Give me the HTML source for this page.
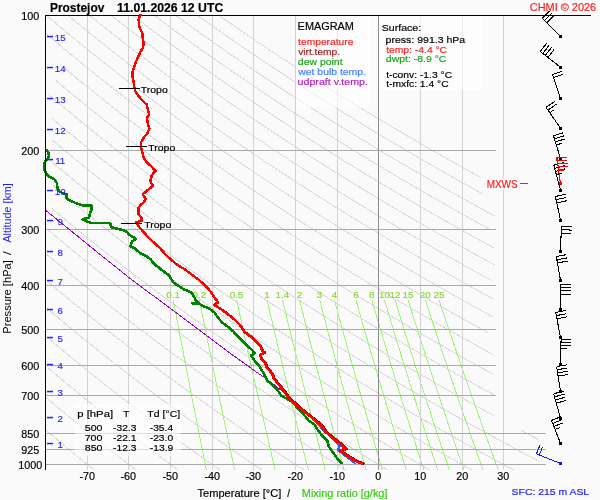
<!DOCTYPE html>
<html><head><meta charset="utf-8"><style>
html,body{margin:0;padding:0;background:#fafafa;width:600px;height:500px;overflow:hidden;font-family:"Liberation Sans",sans-serif;}
</style></head><body>
<svg xmlns="http://www.w3.org/2000/svg" width="600" height="500" viewBox="0 0 600 500" style="position:absolute;left:0;top:0;will-change:transform">
<defs><clipPath id="pc"><rect x="46" y="16" width="500" height="454"/></clipPath><clipPath id="pc3"><rect x="46" y="14" width="500" height="456"/></clipPath><clipPath id="pc2"><rect x="43" y="16" width="503" height="454"/></clipPath></defs>
<rect x="0" y="0" width="600" height="500" fill="#fafafa"/>
<g clip-path="url(#pc)" shape-rendering="crispEdges">
<polyline points="45.9,430.2 48.7,432.5 51.4,434.8 54.0,437.1 56.7,439.3 59.3,441.5 61.9,443.7 64.5,445.8 67.1,448.0 69.7,450.1 72.2,452.2 74.7,454.2 77.2,456.3 79.7,458.3 82.1,460.3 84.6,462.3 87.0,464.2 89.4,466.2 91.8,468.1 94.2,470.0 96.5,471.9 98.9,473.8" fill="none" stroke="#dadada" stroke-width="1" />
<polyline points="45.9,397.4 49.2,400.1 52.4,402.8 55.5,405.5 58.6,408.1 61.7,410.7 64.8,413.2 67.8,415.8 70.9,418.2 73.8,420.7 76.8,423.1 79.7,425.5 82.6,427.9 85.5,430.2 88.4,432.5 91.2,434.8 94.0,437.1 96.8,439.3 99.6,441.5 102.3,443.7 105.0,445.8 107.7,448.0 110.4,450.1 113.1,452.2 115.7,454.2 118.3,456.3 120.9,458.3 123.5,460.3 126.1,462.3 128.6,464.2 131.1,466.2 133.6,468.1 136.1,470.0 138.6,471.9 141.0,473.8" fill="none" stroke="#dadada" stroke-width="1" />
<polyline points="47.9,367.8 51.7,371.0 55.4,374.1 59.1,377.2 62.7,380.2 66.3,383.2 69.8,386.1 73.3,389.0 76.8,391.8 80.3,394.6 83.7,397.4 87.0,400.1 90.4,402.8 93.7,405.5 97.0,408.1 100.2,410.7 103.4,413.2 106.6,415.8 109.7,418.2 112.9,420.7 116.0,423.1 119.0,425.5 122.1,427.9 125.1,430.2 128.1,432.5 131.0,434.8 134.0,437.1 136.9,439.3 139.8,441.5 142.7,443.7 145.5,445.8 148.3,448.0 151.2,450.1 153.9,452.2 156.7,454.2 159.4,456.3 162.2,458.3 164.9,460.3 167.5,462.3 170.2,464.2 172.8,466.2 175.5,468.1 178.1,470.0 180.7,471.9 183.2,473.8" fill="none" stroke="#dadada" stroke-width="1" />
<polyline points="46.5,336.7 50.9,340.4 55.2,344.0 59.5,347.6 63.7,351.1 67.9,354.6 72.0,358.0 76.1,361.3 80.1,364.6 84.1,367.8 88.0,371.0 91.9,374.1 95.7,377.2 99.5,380.2 103.2,383.2 106.9,386.1 110.6,389.0 114.2,391.8 117.8,394.6 121.4,397.4 124.9,400.1 128.4,402.8 131.9,405.5 135.3,408.1 138.7,410.7 142.0,413.2 145.3,415.8 148.6,418.2 151.9,420.7 155.1,423.1 158.3,425.5 161.5,427.9 164.7,430.2 167.8,432.5 170.9,434.8 174.0,437.1 177.0,439.3 180.0,441.5 183.0,443.7 186.0,445.8 189.0,448.0 191.9,450.1 194.8,452.2 197.7,454.2 200.6,456.3 203.4,458.3 206.2,460.3 209.0,462.3 211.8,464.2 214.6,466.2 217.3,468.1 220.0,470.0 222.7,471.9 225.4,473.8" fill="none" stroke="#dadada" stroke-width="1" />
<polyline points="47.1,308.4 52.1,312.7 57.1,316.9 62.1,321.0 66.9,325.1 71.7,329.0 76.4,332.9 81.0,336.7 85.6,340.4 90.1,344.0 94.6,347.6 99.0,351.1 103.3,354.6 107.6,358.0 111.9,361.3 116.0,364.6 120.2,367.8 124.3,371.0 128.3,374.1 132.3,377.2 136.3,380.2 140.2,383.2 144.0,386.1 147.9,389.0 151.7,391.8 155.4,394.6 159.1,397.4 162.8,400.1 166.4,402.8 170.0,405.5 173.6,408.1 177.1,410.7 180.6,413.2 184.1,415.8 187.5,418.2 190.9,420.7 194.3,423.1 197.6,425.5 201.0,427.9 204.2,430.2 207.5,432.5 210.7,434.8 213.9,437.1 217.1,439.3 220.3,441.5 223.4,443.7 226.5,445.8 229.6,448.0 232.6,450.1 235.7,452.2 238.7,454.2 241.7,456.3 244.6,458.3 247.6,460.3 250.5,462.3 253.4,464.2 256.3,466.2 259.1,468.1 262.0,470.0 264.8,471.9 267.6,473.8" fill="none" stroke="#dadada" stroke-width="1" />
<polyline points="46.6,280.5 52.4,285.5 58.2,290.3 63.8,295.0 69.4,299.6 74.8,304.1 80.2,308.4 85.5,312.7 90.7,316.9 95.8,321.0 100.8,325.1 105.8,329.0 110.7,332.9 115.5,336.7 120.3,340.4 125.0,344.0 129.7,347.6 134.2,351.1 138.8,354.6 143.2,358.0 147.6,361.3 152.0,364.6 156.3,367.8 160.6,371.0 164.8,374.1 168.9,377.2 173.0,380.2 177.1,383.2 181.1,386.1 185.1,389.0 189.1,391.8 193.0,394.6 196.8,397.4 200.7,400.1 204.4,402.8 208.2,405.5 211.9,408.1 215.6,410.7 219.2,413.2 222.8,415.8 226.4,418.2 230.0,420.7 233.5,423.1 237.0,425.5 240.4,427.9 243.8,430.2 247.2,432.5 250.6,434.8 253.9,437.1 257.2,439.3 260.5,441.5 263.8,443.7 267.0,445.8 270.2,448.0 273.4,450.1 276.5,452.2 279.7,454.2 282.8,456.3 285.9,458.3 288.9,460.3 292.0,462.3 295.0,464.2 298.0,466.2 301.0,468.1 303.9,470.0 306.9,471.9 309.8,473.8" fill="none" stroke="#dadada" stroke-width="1" />
<polyline points="46.2,253.8 52.9,259.4 59.5,264.9 65.9,270.3 72.2,275.5 78.4,280.5 84.5,285.5 90.4,290.3 96.3,295.0 102.1,299.6 107.7,304.1 113.3,308.4 118.8,312.7 124.2,316.9 129.5,321.0 134.8,325.1 139.9,329.0 145.0,332.9 150.0,336.7 155.0,340.4 159.9,344.0 164.7,347.6 169.5,351.1 174.2,354.6 178.8,358.0 183.4,361.3 187.9,364.6 192.4,367.8 196.9,371.0 201.2,374.1 205.6,377.2 209.8,380.2 214.1,383.2 218.2,386.1 222.4,389.0 226.5,391.8 230.5,394.6 234.6,397.4 238.5,400.1 242.5,402.8 246.4,405.5 250.2,408.1 254.0,410.7 257.8,413.2 261.6,415.8 265.3,418.2 269.0,420.7 272.6,423.1 276.3,425.5 279.8,427.9 283.4,430.2 286.9,432.5 290.4,434.8 293.9,437.1 297.3,439.3 300.8,441.5 304.1,443.7 307.5,445.8 310.8,448.0 314.1,450.1 317.4,452.2 320.7,454.2 323.9,456.3 327.1,458.3 330.3,460.3 333.5,462.3 336.6,464.2 339.7,466.2 342.8,468.1 345.9,470.0 348.9,471.9 352.0,473.8" fill="none" stroke="#dadada" stroke-width="1" />
<polyline points="47.5,229.3 55.1,235.7 62.5,241.9 69.7,247.9 76.8,253.8 83.7,259.4 90.5,264.9 97.2,270.3 103.8,275.5 110.2,280.5 116.5,285.5 122.7,290.3 128.8,295.0 134.7,299.6 140.6,304.1 146.4,308.4 152.1,312.7 157.7,316.9 163.2,321.0 168.7,325.1 174.1,329.0 179.3,332.9 184.6,336.7 189.7,340.4 194.8,344.0 199.8,347.6 204.7,351.1 209.6,354.6 214.4,358.0 219.2,361.3 223.9,364.6 228.5,367.8 233.1,371.0 237.7,374.1 242.2,377.2 246.6,380.2 251.0,383.2 255.4,386.1 259.6,389.0 263.9,391.8 268.1,394.6 272.3,397.4 276.4,400.1 280.5,402.8 284.5,405.5 288.5,408.1 292.5,410.7 296.4,413.2 300.3,415.8 304.2,418.2 308.0,420.7 311.8,423.1 315.6,425.5 319.3,427.9 323.0,430.2 326.6,432.5 330.3,434.8 333.9,437.1 337.4,439.3 341.0,441.5 344.5,443.7 348.0,445.8 351.5,448.0 354.9,450.1 358.3,452.2 361.7,454.2 365.0,456.3 368.4,458.3 371.7,460.3 374.9,462.3 378.2,464.2 381.4,466.2 384.6,468.1 387.8,470.0 391.0,471.9 394.2,473.8" fill="none" stroke="#dadada" stroke-width="1" />
<polyline points="52.2,208.8 60.7,215.9 68.9,222.7 77.0,229.3 84.8,235.7 92.5,241.9 100.0,247.9 107.4,253.8 114.6,259.4 121.6,264.9 128.5,270.3 135.3,275.5 142.0,280.5 148.5,285.5 154.9,290.3 161.2,295.0 167.4,299.6 173.5,304.1 179.5,308.4 185.4,312.7 191.3,316.9 197.0,321.0 202.6,325.1 208.2,329.0 213.7,332.9 219.1,336.7 224.4,340.4 229.7,344.0 234.9,347.6 240.0,351.1 245.0,354.6 250.0,358.0 255.0,361.3 259.8,364.6 264.7,367.8 269.4,371.0 274.1,374.1 278.8,377.2 283.4,380.2 287.9,383.2 292.5,386.1 296.9,389.0 301.3,391.8 305.7,394.6 310.0,397.4 314.3,400.1 318.5,402.8 322.7,405.5 326.9,408.1 331.0,410.7 335.0,413.2 339.1,415.8 343.1,418.2 347.0,420.7 351.0,423.1 354.9,425.5 358.7,427.9 362.6,430.2 366.4,432.5 370.1,434.8 373.9,437.1 377.6,439.3 381.2,441.5 384.9,443.7 388.5,445.8 392.1,448.0 395.6,450.1 399.2,452.2 402.7,454.2 406.1,456.3 409.6,458.3 413.0,460.3 416.4,462.3 419.8,464.2 423.2,466.2 426.5,468.1 429.8,470.0 433.1,471.9 436.3,473.8" fill="none" stroke="#dadada" stroke-width="1" />
<polyline points="53.1,185.8 62.6,193.8 71.8,201.4 80.8,208.8 89.6,215.9 98.1,222.7 106.5,229.3 114.6,235.7 122.5,241.9 130.3,247.9 137.9,253.8 145.4,259.4 152.7,264.9 159.8,270.3 166.9,275.5 173.8,280.5 180.5,285.5 187.2,290.3 193.7,295.0 200.1,299.6 206.4,304.1 212.6,308.4 218.8,312.7 224.8,316.9 230.7,321.0 236.6,325.1 242.3,329.0 248.0,332.9 253.6,336.7 259.1,340.4 264.5,344.0 269.9,347.6 275.2,351.1 280.5,354.6 285.6,358.0 290.8,361.3 295.8,364.6 300.8,367.8 305.7,371.0 310.6,374.1 315.4,377.2 320.2,380.2 324.9,383.2 329.6,386.1 334.2,389.0 338.7,391.8 343.3,394.6 347.7,397.4 352.2,400.1 356.5,402.8 360.9,405.5 365.2,408.1 369.4,410.7 373.7,413.2 377.8,415.8 382.0,418.2 386.1,420.7 390.1,423.1 394.2,425.5 398.2,427.9 402.1,430.2 406.1,432.5 410.0,434.8 413.8,437.1 417.7,439.3 421.5,441.5 425.2,443.7 429.0,445.8 432.7,448.0 436.4,450.1 440.0,452.2 443.7,454.2 447.3,456.3 450.8,458.3 454.4,460.3 457.9,462.3 461.4,464.2 464.9,466.2 468.3,468.1 471.7,470.0 475.1,471.9 478.5,473.8" fill="none" stroke="#dadada" stroke-width="1" />
<polyline points="49.3,159.8 60.1,168.8 70.6,177.5 80.7,185.8 90.6,193.8 100.1,201.4 109.4,208.8 118.5,215.9 127.3,222.7 136.0,229.3 144.4,235.7 152.6,241.9 160.6,247.9 168.5,253.8 176.2,259.4 183.8,264.9 191.2,270.3 198.4,275.5 205.5,280.5 212.5,285.5 219.4,290.3 226.2,295.0 232.8,299.6 239.3,304.1 245.8,308.4 252.1,312.7 258.3,316.9 264.4,321.0 270.5,325.1 276.4,329.0 282.3,332.9 288.1,336.7 293.8,340.4 299.4,344.0 305.0,347.6 310.5,351.1 315.9,354.6 321.2,358.0 326.5,361.3 331.8,364.6 336.9,367.8 342.0,371.0 347.0,374.1 352.0,377.2 357.0,380.2 361.8,383.2 366.7,386.1 371.4,389.0 376.1,391.8 380.8,394.6 385.4,397.4 390.0,400.1 394.6,402.8 399.0,405.5 403.5,408.1 407.9,410.7 412.3,413.2 416.6,415.8 420.9,418.2 425.1,420.7 429.3,423.1 433.5,425.5 437.6,427.9 441.7,430.2 445.8,432.5 449.8,434.8 453.8,437.1 457.8,439.3 461.7,441.5 465.6,443.7 469.5,445.8 473.3,448.0 477.1,450.1 480.9,452.2 484.7,454.2 488.4,456.3 492.1,458.3 495.7,460.3 499.4,462.3 503.0,464.2 506.6,466.2 510.2,468.1 513.7,470.0 517.2,471.9 520.7,473.8" fill="none" stroke="#dadada" stroke-width="1" />
<polyline points="52.5,140.2 64.4,150.2 76.0,159.8 87.1,168.8 97.9,177.5 108.4,185.8 118.6,193.8 128.4,201.4 138.1,208.8 147.4,215.9 156.5,222.7 165.4,229.3 174.1,235.7 182.6,241.9 190.9,247.9 199.1,253.8 207.0,259.4 214.8,264.9 222.5,270.3 230.0,275.5 237.3,280.5 244.6,285.5 251.7,290.3 258.6,295.0 265.5,299.6 272.2,304.1 278.9,308.4 285.4,312.7 291.8,316.9 298.2,321.0 304.4,325.1 310.6,329.0 316.6,332.9 322.6,336.7 328.5,340.4 334.3,344.0 340.1,347.6 345.7,351.1 351.3,354.6 356.9,358.0 362.3,361.3 367.7,364.6 373.0,367.8 378.3,371.0 383.5,374.1 388.7,377.2 393.7,380.2 398.8,383.2 403.8,386.1 408.7,389.0 413.6,391.8 418.4,394.6 423.2,397.4 427.9,400.1 432.6,402.8 437.2,405.5 441.8,408.1 446.4,410.7 450.9,413.2 455.3,415.8 459.8,418.2 464.1,420.7 468.5,423.1 472.8,425.5 477.1,427.9 481.3,430.2 485.5,432.5 489.7,434.8 493.8,437.1 497.9,439.3 501.9,441.5 506.0,443.7 510.0,445.8 513.9,448.0 517.9,450.1 521.8,452.2 525.6,454.2 529.5,456.3 533.3,458.3 537.1,460.3" fill="none" stroke="#dadada" stroke-width="1" />
<polyline points="52.2,118.5 65.5,129.7 78.3,140.2 90.7,150.2 102.6,159.8 114.1,168.8 125.3,177.5 136.1,185.8 146.6,193.8 156.8,201.4 166.7,208.8 176.3,215.9 185.7,222.7 194.9,229.3 203.9,235.7 212.7,241.9 221.2,247.9 229.6,253.8 237.8,259.4 245.9,264.9 253.8,270.3 261.5,275.5 269.1,280.5 276.6,285.5 283.9,290.3 291.1,295.0 298.2,299.6 305.1,304.1 312.0,308.4 318.7,312.7 325.4,316.9 331.9,321.0 338.3,325.1 344.7,329.0 350.9,332.9 357.1,336.7 363.2,340.4 369.2,344.0 375.1,347.6 381.0,351.1 386.8,354.6 392.5,358.0 398.1,361.3 403.7,364.6 409.2,367.8 414.6,371.0 420.0,374.1 425.3,377.2 430.5,380.2 435.7,383.2 440.9,386.1 445.9,389.0 451.0,391.8 456.0,394.6 460.9,397.4 465.8,400.1 470.6,402.8 475.4,405.5 480.1,408.1 484.8,410.7 489.5,413.2 494.1,415.8" fill="none" stroke="#dadada" stroke-width="1" />
<polyline points="520.9,430.2 525.2,432.5 529.5,434.8 533.8,437.1 538.0,439.3" fill="none" stroke="#dadada" stroke-width="1" />
<polyline points="47.9,94.1 62.9,106.7 77.3,118.5 91.0,129.7 104.2,140.2 117.0,150.2 129.2,159.8 141.1,168.8 152.6,177.5 163.7,185.8 174.6,193.8 185.1,201.4 195.3,208.8 205.3,215.9 215.0,222.7 224.4,229.3 233.7,235.7 242.7,241.9 251.6,247.9 260.2,253.8 268.7,259.4 277.0,264.9 285.1,270.3 293.1,275.5 300.9,280.5 308.6,285.5 316.1,290.3 323.6,295.0 330.9,299.6 338.0,304.1 345.1,308.4 352.0,312.7 358.9,316.9 365.6,321.0 372.3,325.1 378.8,329.0 385.3,332.9 391.6,336.7 397.9,340.4 404.1,344.0 410.2,347.6 416.2,351.1 422.2,354.6 428.1,358.0 433.9,361.3 439.6,364.6 445.3,367.8 450.9,371.0 456.4,374.1 461.9,377.2 467.3,380.2 472.7,383.2 478.0,386.1 483.2,389.0 488.4,391.8 493.5,394.6" fill="none" stroke="#dadada" stroke-width="1" />
<polyline points="55.9,80.6 72.1,94.1 87.6,106.7 102.3,118.5 116.5,129.7 130.1,140.2 143.2,150.2 155.9,159.8 168.1,168.8 179.9,177.5 191.4,185.8 202.6,193.8 213.4,201.4 223.9,208.8 234.2,215.9 244.2,222.7 253.9,229.3 263.4,235.7 272.8,241.9 281.9,247.9 290.8,253.8 299.5,259.4 308.0,264.9 316.4,270.3 324.6,275.5 332.7,280.5 340.6,285.5 348.4,290.3 356.0,295.0 363.6,299.6 370.9,304.1 378.2,308.4 385.4,312.7 392.4,316.9 399.4,321.0 406.2,325.1 412.9,329.0 419.6,332.9 426.1,336.7 432.6,340.4 439.0,344.0 445.3,347.6 451.5,351.1 457.6,354.6 463.7,358.0 469.6,361.3 475.6,364.6 481.4,367.8 487.2,371.0 492.9,374.1" fill="none" stroke="#dadada" stroke-width="1" />
<polyline points="62.1,66.2 79.6,80.6 96.3,94.1 112.2,106.7 127.4,118.5 142.0,129.7 156.0,140.2 169.5,150.2 182.5,159.8 195.1,168.8 207.3,177.5 219.1,185.8 230.5,193.8 241.7,201.4 252.5,208.8 263.1,215.9 273.4,222.7 283.4,229.3 293.2,235.7 302.8,241.9 312.2,247.9 321.3,253.8 330.3,259.4 339.1,264.9 347.7,270.3 356.2,275.5 364.5,280.5 372.6,285.5 380.6,290.3 388.5,295.0 396.2,299.6 403.8,304.1 411.3,308.4 418.7,312.7 425.9,316.9 433.1,321.0 440.1,325.1 447.1,329.0 453.9,332.9 460.6,336.7 467.3,340.4 473.9,344.0 480.3,347.6 486.7,351.1 493.0,354.6" fill="none" stroke="#dadada" stroke-width="1" />
<polyline points="46.0,33.6 66.2,50.6 85.3,66.2 103.3,80.6 120.5,94.1 136.8,106.7 152.5,118.5 167.5,129.7 181.9,140.2 195.8,150.2 209.1,159.8 222.1,168.8 234.6,177.5 246.8,185.8 258.5,193.8 270.0,201.4 281.1,208.8 292.0,215.9 302.6,222.7 312.9,229.3 323.0,235.7 332.8,241.9 342.5,247.9 351.9,253.8 361.1,259.4 370.2,264.9 379.0,270.3 387.7,275.5 396.3,280.5 404.7,285.5 412.9,290.3 421.0,295.0 428.9,299.6 436.7,304.1 444.4,308.4 452.0,312.7 459.5,316.9 466.8,321.0 474.1,325.1 481.2,329.0 488.2,332.9" fill="none" stroke="#dadada" stroke-width="1" />
<polyline points="45.9,15.0 68.1,33.6 88.9,50.6 108.5,66.2 127.1,80.6 144.7,94.1 161.5,106.7 177.6,118.5 193.0,129.7 207.8,140.2 222.0,150.2 235.8,159.8 249.1,168.8 261.9,177.5 274.4,185.8 286.5,193.8 298.3,201.4 309.8,208.8 320.9,215.9 331.8,222.7 342.4,229.3 352.8,235.7 362.9,241.9 372.8,247.9 382.5,253.8 391.9,259.4 401.2,264.9 410.4,270.3 419.3,275.5 428.1,280.5 436.7,285.5 445.1,290.3 453.4,295.0 461.6,299.6 469.6,304.1 477.6,308.4 485.3,312.7 493.0,316.9" fill="none" stroke="#dadada" stroke-width="1" />
<polyline points="67.5,15.0 90.3,33.6 111.6,50.6 131.7,66.2 150.8,80.6 168.9,94.1 186.1,106.7 202.6,118.5 218.4,129.7 233.6,140.2 248.3,150.2 262.4,159.8 276.1,168.8 289.3,177.5 302.1,185.8 314.5,193.8 326.6,201.4 338.4,208.8 349.8,215.9 361.0,222.7 371.9,229.3 382.5,235.7 392.9,241.9 403.1,247.9 413.0,253.8 422.8,259.4 432.3,264.9 441.7,270.3 450.8,275.5 459.8,280.5 468.7,285.5 477.4,290.3 485.9,295.0 494.3,299.6" fill="none" stroke="#dadada" stroke-width="1" />
<polyline points="89.0,15.0 112.4,33.6 134.3,50.6 155.0,66.2 174.5,80.6 193.1,94.1 210.8,106.7 227.7,118.5 243.9,129.7 259.5,140.2 274.6,150.2 289.0,159.8 303.1,168.8 316.6,177.5 329.8,185.8 342.5,193.8 354.9,201.4 367.0,208.8 378.7,215.9 390.2,222.7 401.4,229.3 412.3,235.7 423.0,241.9 433.4,247.9 443.6,253.8 453.6,259.4 463.4,264.9 473.0,270.3 482.4,275.5 491.6,280.5" fill="none" stroke="#dadada" stroke-width="1" />
<polyline points="110.6,15.0 134.6,33.6 157.0,50.6 178.2,66.2 198.2,80.6 217.3,94.1 235.4,106.7 252.8,118.5 269.4,129.7 285.4,140.2 300.8,150.2 315.7,159.8 330.0,168.8 344.0,177.5 357.4,185.8 370.5,193.8 383.2,201.4 395.6,208.8 407.7,215.9 419.4,222.7 430.9,229.3 442.1,235.7 453.0,241.9 463.7,247.9 474.2,253.8 484.4,259.4 494.4,264.9" fill="none" stroke="#dadada" stroke-width="1" />
<polyline points="132.1,15.0 156.7,33.6 179.7,50.6 201.4,66.2 221.9,80.6 241.5,94.1 260.1,106.7 277.8,118.5 294.9,129.7 311.3,140.2 327.1,150.2 342.3,159.8 357.0,168.8 371.3,177.5 385.1,185.8 398.5,193.8 411.6,201.4 424.2,208.8 436.6,215.9 448.6,222.7 460.4,229.3 471.8,235.7 483.0,241.9 494.0,247.9" fill="none" stroke="#dadada" stroke-width="1" />
<polyline points="153.7,15.0 178.8,33.6 202.4,50.6 224.6,66.2 245.7,80.6 265.7,94.1 284.7,106.7 302.9,118.5 320.4,129.7 337.2,140.2 353.4,150.2 369.0,159.8 384.0,168.8 398.6,177.5 412.8,185.8 426.5,193.8 439.9,201.4 452.9,208.8 465.5,215.9 477.8,222.7 489.9,229.3" fill="none" stroke="#dadada" stroke-width="1" />
<polyline points="175.2,15.0 201.0,33.6 225.1,50.6 247.9,66.2 269.4,80.6 289.8,94.1 309.3,106.7 328.0,118.5 345.9,129.7 363.1,140.2 379.6,150.2 395.6,159.8 411.0,168.8 426.0,177.5 440.5,185.8 454.5,193.8 468.2,201.4 481.5,208.8 494.4,215.9" fill="none" stroke="#dadada" stroke-width="1" />
<polyline points="196.8,15.0 223.1,33.6 247.8,50.6 271.1,66.2 293.1,80.6 314.0,94.1 334.0,106.7 353.1,118.5 371.4,129.7 389.0,140.2 405.9,150.2 422.2,159.8 438.0,168.8 453.3,177.5 468.1,185.8 482.5,193.8" fill="none" stroke="#dadada" stroke-width="1" />
<polyline points="218.3,15.0 245.3,33.6 270.5,50.6 294.3,66.2 316.8,80.6 338.2,94.1 358.6,106.7 378.1,118.5 396.9,129.7 414.8,140.2 432.1,150.2 448.9,159.8 465.0,168.8 480.6,177.5" fill="none" stroke="#dadada" stroke-width="1" />
</g>
<g clip-path="url(#pc)" shape-rendering="crispEdges">
<polyline points="173.2,299.6 174.5,306.3 175.7,312.7 176.9,319.0 178.0,325.1 179.1,330.9 180.2,336.7 181.3,342.2 182.3,347.6 183.3,352.8 184.3,358.0 185.3,362.9 186.2,367.8 187.1,372.5 188.0,377.2 188.9,381.7 189.7,386.1 190.6,390.4 191.4,394.6 192.2,398.8 193.0,402.8 193.8,406.8 194.6,410.7 195.3,414.5 196.1,418.2 196.8,421.9 197.5,425.5 198.2,429.1 198.9,432.5 199.6,435.9 200.2,439.3 200.9,442.6 201.5,445.8 202.2,449.0 202.8,452.2 203.4,455.3 204.0,458.3 204.7,461.3 205.2,464.2 205.8,467.1 206.4,470.0" fill="none" stroke="#a4f27c" stroke-width="1" />
<polyline points="199.3,299.6 200.7,306.3 202.0,312.7 203.2,319.0 204.4,325.1 205.6,330.9 206.8,336.7 207.9,342.2 209.0,347.6 210.1,352.8 211.1,358.0 212.2,362.9 213.2,367.8 214.1,372.5 215.1,377.2 216.0,381.7 216.9,386.1 217.8,390.4 218.7,394.6 219.6,398.8 220.4,402.8 221.3,406.8 222.1,410.7 222.9,414.5 223.7,418.2 224.4,421.9 225.2,425.5 226.0,429.1 226.7,432.5 227.4,435.9 228.1,439.3 228.8,442.6 229.5,445.8 230.2,449.0 230.9,452.2 231.5,455.3 232.2,458.3 232.8,461.3 233.5,464.2 234.1,467.1 234.7,470.0" fill="none" stroke="#a4f27c" stroke-width="1" />
<polyline points="236.5,299.6 238.0,306.3 239.4,312.7 240.8,319.0 242.1,325.1 243.4,330.9 244.7,336.7 245.9,342.2 247.1,347.6 248.3,352.8 249.4,358.0 250.5,362.9 251.6,367.8 252.7,372.5 253.7,377.2 254.7,381.7 255.7,386.1 256.7,390.4 257.7,394.6 258.6,398.8 259.6,402.8 260.5,406.8 261.4,410.7 262.2,414.5 263.1,418.2 264.0,421.9 264.8,425.5 265.6,429.1 266.4,432.5 267.2,435.9 268.0,439.3 268.8,442.6 269.5,445.8 270.3,449.0 271.0,452.2 271.7,455.3 272.4,458.3 273.2,461.3 273.8,464.2 274.5,467.1 275.2,470.0" fill="none" stroke="#a4f27c" stroke-width="1" />
<polyline points="266.9,299.6 268.5,306.3 270.0,312.7 271.5,319.0 272.9,325.1 274.3,330.9 275.6,336.7 276.9,342.2 278.2,347.6 279.5,352.8 280.7,358.0 281.9,362.9 283.1,367.8 284.2,372.5 285.3,377.2 286.4,381.7 287.5,386.1 288.6,390.4 289.6,394.6 290.6,398.8 291.6,402.8 292.6,406.8 293.5,410.7 294.5,414.5 295.4,418.2 296.3,421.9 297.2,425.5 298.1,429.1 299.0,432.5 299.8,435.9 300.7,439.3 301.5,442.6 302.3,445.8 303.1,449.0 303.9,452.2 304.7,455.3 305.4,458.3 306.2,461.3 306.9,464.2 307.7,467.1 308.4,470.0" fill="none" stroke="#a4f27c" stroke-width="1" />
<polyline points="282.4,299.6 284.0,306.3 285.6,312.7 287.1,319.0 288.6,325.1 290.0,330.9 291.4,336.7 292.8,342.2 294.1,347.6 295.4,352.8 296.7,358.0 297.9,362.9 299.2,367.8 300.3,372.5 301.5,377.2 302.6,381.7 303.8,386.1 304.8,390.4 305.9,394.6 307.0,398.8 308.0,402.8 309.0,406.8 310.0,410.7 311.0,414.5 311.9,418.2 312.9,421.9 313.8,425.5 314.7,429.1 315.6,432.5 316.5,435.9 317.4,439.3 318.2,442.6 319.1,445.8 319.9,449.0 320.7,452.2 321.5,455.3 322.3,458.3 323.1,461.3 323.9,464.2 324.6,467.1 325.4,470.0" fill="none" stroke="#a4f27c" stroke-width="1" />
<polyline points="299.5,299.6 301.1,306.3 302.8,312.7 304.3,319.0 305.9,325.1 307.4,330.9 308.8,336.7 310.2,342.2 311.6,347.6 313.0,352.8 314.3,358.0 315.6,362.9 316.8,367.8 318.0,372.5 319.3,377.2 320.4,381.7 321.6,386.1 322.7,390.4 323.8,394.6 324.9,398.8 326.0,402.8 327.0,406.8 328.1,410.7 329.1,414.5 330.1,418.2 331.1,421.9 332.0,425.5 333.0,429.1 333.9,432.5 334.8,435.9 335.7,439.3 336.6,442.6 337.5,445.8 338.4,449.0 339.2,452.2 340.0,455.3 340.9,458.3 341.7,461.3 342.5,464.2 343.3,467.1 344.1,470.0" fill="none" stroke="#a4f27c" stroke-width="1" />
<polyline points="319.6,299.6 321.3,306.3 323.0,312.7 324.7,319.0 326.3,325.1 327.8,330.9 329.3,336.7 330.8,342.2 332.3,347.6 333.7,352.8 335.0,358.0 336.4,362.9 337.7,367.8 339.0,372.5 340.2,377.2 341.5,381.7 342.7,386.1 343.9,390.4 345.0,394.6 346.2,398.8 347.3,402.8 348.4,406.8 349.5,410.7 350.5,414.5 351.6,418.2 352.6,421.9 353.6,425.5 354.6,429.1 355.5,432.5 356.5,435.9 357.5,439.3 358.4,442.6 359.3,445.8 360.2,449.0 361.1,452.2 362.0,455.3 362.8,458.3 363.7,461.3 364.5,464.2 365.4,467.1 366.2,470.0" fill="none" stroke="#a4f27c" stroke-width="1" />
<polyline points="334.4,299.6 336.2,306.3 337.9,312.7 339.6,319.0 341.3,325.1 342.9,330.9 344.4,336.7 346.0,342.2 347.4,347.6 348.9,352.8 350.3,358.0 351.7,362.9 353.1,367.8 354.4,372.5 355.7,377.2 356.9,381.7 358.2,386.1 359.4,390.4 360.6,394.6 361.8,398.8 362.9,402.8 364.1,406.8 365.2,410.7 366.3,414.5 367.4,418.2 368.4,421.9 369.4,425.5 370.5,429.1 371.5,432.5 372.5,435.9 373.4,439.3 374.4,442.6 375.3,445.8 376.3,449.0 377.2,452.2 378.1,455.3 379.0,458.3 379.9,461.3 380.8,464.2 381.6,467.1 382.5,470.0" fill="none" stroke="#a4f27c" stroke-width="1" />
<polyline points="355.9,299.6 357.8,306.3 359.6,312.7 361.4,319.0 363.1,325.1 364.8,330.9 366.5,336.7 368.1,342.2 369.6,347.6 371.1,352.8 372.6,358.0 374.1,362.9 375.5,367.8 376.9,372.5 378.2,377.2 379.6,381.7 380.9,386.1 382.1,390.4 383.4,394.6 384.6,398.8 385.8,402.8 387.0,406.8 388.2,410.7 389.3,414.5 390.4,418.2 391.5,421.9 392.6,425.5 393.7,429.1 394.8,432.5 395.8,435.9 396.8,439.3 397.8,442.6 398.8,445.8 399.8,449.0 400.8,452.2 401.7,455.3 402.6,458.3 403.6,461.3 404.5,464.2 405.4,467.1 406.3,470.0" fill="none" stroke="#a4f27c" stroke-width="1" />
<polyline points="371.8,299.6 373.7,306.3 375.6,312.7 377.4,319.0 379.2,325.1 381.0,330.9 382.7,336.7 384.3,342.2 385.9,347.6 387.5,352.8 389.0,358.0 390.5,362.9 392.0,367.8 393.4,372.5 394.8,377.2 396.2,381.7 397.5,386.1 398.8,390.4 400.1,394.6 401.4,398.8 402.7,402.8 403.9,406.8 405.1,410.7 406.3,414.5 407.4,418.2 408.6,421.9 409.7,425.5 410.8,429.1 411.9,432.5 413.0,435.9 414.0,439.3 415.1,442.6 416.1,445.8 417.1,449.0 418.1,452.2 419.1,455.3 420.0,458.3 421.0,461.3 421.9,464.2 422.9,467.1 423.8,470.0" fill="none" stroke="#a4f27c" stroke-width="1" />
<polyline points="384.4,299.6 386.4,306.3 388.3,312.7 390.2,319.0 392.0,325.1 393.8,330.9 395.5,336.7 397.2,342.2 398.9,347.6 400.5,352.8 402.1,358.0 403.6,362.9 405.1,367.8 406.6,372.5 408.0,377.2 409.4,381.7 410.8,386.1 412.1,390.4 413.5,394.6 414.8,398.8 416.1,402.8 417.3,406.8 418.5,410.7 419.8,414.5 420.9,418.2 422.1,421.9 423.3,425.5 424.4,429.1 425.5,432.5 426.6,435.9 427.7,439.3 428.8,442.6 429.8,445.8 430.9,449.0 431.9,452.2 432.9,455.3 433.9,458.3 434.9,461.3 435.8,464.2 436.8,467.1 437.7,470.0" fill="none" stroke="#a4f27c" stroke-width="1" />
<polyline points="394.9,299.6 396.9,306.3 398.9,312.7 400.8,319.0 402.7,325.1 404.5,330.9 406.3,336.7 408.0,342.2 409.7,347.6 411.3,352.8 412.9,358.0 414.5,362.9 416.0,367.8 417.5,372.5 419.0,377.2 420.4,381.7 421.8,386.1 423.2,390.4 424.6,394.6 425.9,398.8 427.2,402.8 428.5,406.8 429.8,410.7 431.0,414.5 432.2,418.2 433.4,421.9 434.6,425.5 435.8,429.1 436.9,432.5 438.0,435.9 439.1,439.3 440.2,442.6 441.3,445.8 442.4,449.0 443.4,452.2 444.4,455.3 445.4,458.3 446.4,461.3 447.4,464.2 448.4,467.1 449.4,470.0" fill="none" stroke="#a4f27c" stroke-width="1" />
<polyline points="408.0,299.6 410.1,306.3 412.1,312.7 414.1,319.0 416.0,325.1 417.8,330.9 419.7,336.7 421.4,342.2 423.2,347.6 424.8,352.8 426.5,358.0 428.1,362.9 429.7,367.8 431.2,372.5 432.7,377.2 434.2,381.7 435.6,386.1 437.1,390.4 438.5,394.6 439.8,398.8 441.2,402.8 442.5,406.8 443.8,410.7 445.0,414.5 446.3,418.2 447.5,421.9 448.7,425.5 449.9,429.1 451.1,432.5 452.3,435.9 453.4,439.3 454.5,442.6 455.6,445.8 456.7,449.0 457.8,452.2 458.8,455.3 459.9,458.3 460.9,461.3 461.9,464.2 462.9,467.1 463.9,470.0" fill="none" stroke="#a4f27c" stroke-width="1" />
<polyline points="425.3,299.6 427.4,306.3 429.5,312.7 431.6,319.0 433.5,325.1 435.5,330.9 437.3,336.7 439.2,342.2 441.0,347.6 442.7,352.8 444.4,358.0 446.1,362.9 447.7,367.8 449.3,372.5 450.8,377.2 452.4,381.7 453.9,386.1 455.3,390.4 456.8,394.6 458.2,398.8 459.6,402.8 460.9,406.8 462.3,410.7 463.6,414.5 464.9,418.2 466.2,421.9 467.4,425.5 468.6,429.1 469.9,432.5 471.0,435.9 472.2,439.3 473.4,442.6 474.5,445.8 475.6,449.0 476.8,452.2 477.9,455.3 478.9,458.3 480.0,461.3 481.0,464.2 482.1,467.1 483.1,470.0" fill="none" stroke="#a4f27c" stroke-width="1" />
<polyline points="439.0,299.6 441.2,306.3 443.3,312.7 445.4,319.0 447.4,325.1 449.4,330.9 451.4,336.7 453.2,342.2 455.1,347.6 456.8,352.8 458.6,358.0 460.3,362.9 462.0,367.8 463.6,372.5 465.2,377.2 466.8,381.7 468.3,386.1 469.8,390.4 471.3,394.6 472.8,398.8 474.2,402.8 475.6,406.8 477.0,410.7 478.3,414.5 479.6,418.2 480.9,421.9 482.2,425.5 483.5,429.1 484.7,432.5 486.0,435.9 487.2,439.3 488.4,442.6 489.5,445.8 490.7,449.0 491.8,452.2 492.9,455.3 494.1,458.3 495.2,461.3 496.2,464.2 497.3,467.1 498.3,470.0" fill="none" stroke="#a4f27c" stroke-width="1" />
</g>
<rect x="87" y="16" width="1" height="454" fill="#d2d2d2"/>
<rect x="128" y="16" width="1" height="454" fill="#d2d2d2"/>
<rect x="170" y="16" width="1" height="454" fill="#d2d2d2"/>
<rect x="212" y="16" width="1" height="454" fill="#d2d2d2"/>
<rect x="253" y="16" width="1" height="454" fill="#d2d2d2"/>
<rect x="295" y="16" width="1" height="454" fill="#d2d2d2"/>
<rect x="337" y="16" width="1" height="454" fill="#d2d2d2"/>
<rect x="378" y="16" width="1" height="454" fill="#8c8c8c"/>
<rect x="420" y="16" width="1" height="454" fill="#d2d2d2"/>
<rect x="462" y="16" width="1" height="454" fill="#d2d2d2"/>
<rect x="503" y="16" width="1" height="454" fill="#d2d2d2"/>
<rect x="46" y="150" width="450" height="1" fill="#a9a9a9"/>
<rect x="46" y="229" width="450" height="1" fill="#a9a9a9"/>
<rect x="46" y="285" width="450" height="1" fill="#a9a9a9"/>
<rect x="46" y="329" width="450" height="1" fill="#a9a9a9"/>
<rect x="46" y="365" width="450" height="1" fill="#a9a9a9"/>
<rect x="46" y="395" width="450" height="1" fill="#a9a9a9"/>
<rect x="46" y="433" width="500" height="1" fill="#a9a9a9"/>
<rect x="46" y="449" width="500" height="1" fill="#a9a9a9"/>
<rect x="46" y="464" width="500" height="1" fill="#a9a9a9"/>
<rect x="296" y="16" width="74" height="92" fill="#fff" fill-opacity="0.6"/>
<rect x="379" y="16" width="103" height="74" fill="#fff" fill-opacity="0.6"/>
<rect x="75" y="404" width="106" height="52" fill="#fff" fill-opacity="0.6"/>
<text x="173.2" y="297.6" font-family="Liberation Sans, sans-serif" font-size="9.9" fill="#88d830" stroke="#88d830" stroke-width="0.15" text-anchor="middle">0.1</text>
<text x="199.3" y="297.6" font-family="Liberation Sans, sans-serif" font-size="9.9" fill="#88d830" stroke="#88d830" stroke-width="0.15" text-anchor="middle">0.2</text>
<text x="236.5" y="297.6" font-family="Liberation Sans, sans-serif" font-size="9.9" fill="#88d830" stroke="#88d830" stroke-width="0.15" text-anchor="middle">0.5</text>
<text x="266.9" y="297.6" font-family="Liberation Sans, sans-serif" font-size="9.9" fill="#88d830" stroke="#88d830" stroke-width="0.15" text-anchor="middle">1</text>
<text x="282.4" y="297.6" font-family="Liberation Sans, sans-serif" font-size="9.9" fill="#88d830" stroke="#88d830" stroke-width="0.15" text-anchor="middle">1.4</text>
<text x="299.5" y="297.6" font-family="Liberation Sans, sans-serif" font-size="9.9" fill="#88d830" stroke="#88d830" stroke-width="0.15" text-anchor="middle">2</text>
<text x="319.6" y="297.6" font-family="Liberation Sans, sans-serif" font-size="9.9" fill="#88d830" stroke="#88d830" stroke-width="0.15" text-anchor="middle">3</text>
<text x="334.4" y="297.6" font-family="Liberation Sans, sans-serif" font-size="9.9" fill="#88d830" stroke="#88d830" stroke-width="0.15" text-anchor="middle">4</text>
<text x="355.9" y="297.6" font-family="Liberation Sans, sans-serif" font-size="9.9" fill="#88d830" stroke="#88d830" stroke-width="0.15" text-anchor="middle">6</text>
<text x="371.8" y="297.6" font-family="Liberation Sans, sans-serif" font-size="9.9" fill="#88d830" stroke="#88d830" stroke-width="0.15" text-anchor="middle">8</text>
<text x="384.4" y="297.6" font-family="Liberation Sans, sans-serif" font-size="9.9" fill="#88d830" stroke="#88d830" stroke-width="0.15" text-anchor="middle">10</text>
<text x="394.9" y="297.6" font-family="Liberation Sans, sans-serif" font-size="9.9" fill="#88d830" stroke="#88d830" stroke-width="0.15" text-anchor="middle">12</text>
<text x="408.0" y="297.6" font-family="Liberation Sans, sans-serif" font-size="9.9" fill="#88d830" stroke="#88d830" stroke-width="0.15" text-anchor="middle">15</text>
<text x="425.3" y="297.6" font-family="Liberation Sans, sans-serif" font-size="9.9" fill="#88d830" stroke="#88d830" stroke-width="0.15" text-anchor="middle">20</text>
<text x="439.0" y="297.6" font-family="Liberation Sans, sans-serif" font-size="9.9" fill="#88d830" stroke="#88d830" stroke-width="0.15" text-anchor="middle">25</text>
<g clip-path="url(#pc)" stroke-linejoin="round" stroke-linecap="round" shape-rendering="crispEdges">
<polyline points="45.3,210.0 100.0,254.4 132.0,280.0 170.0,308.0 212.4,340.0 230.0,353.2 249.2,366.8 255.0,371.2 263.0,376.5 268.0,380.0 272.2,383.2 276.3,386.4 280.2,389.5 284.0,392.5 287.5,395.8 291.7,400.6 298.6,407.0 302.0,409.8 309.0,415.4 316.0,421.0 321.6,425.9 325.8,432.2 331.4,437.1 337.0,441.3 341.2,444.8 344.0,453.9 351.0,458.1 356.6,461.6 362.2,463.5" fill="none" stroke="#a000c0" stroke-width="1" />
<polyline points="141.0,14.2 139.6,16.5 138.4,20.0 138.8,20.0 139.2,26.0 140.6,29.6 142.4,33.2 142.8,38.0 143.6,42.8 143.0,47.6 140.6,51.2 138.6,56.0 135.8,62.0 134.0,68.0 132.2,72.8 132.5,76.4 133.6,81.2 134.1,86.0 135.2,90.8 138.1,95.6 142.4,100.4 146.7,104.4 148.0,110.0 149.3,114.0 146.9,118.0 148.0,124.4 149.3,128.4 147.2,134.0 144.0,137.2 141.3,142.0 140.7,146.5 142.0,151.0 143.6,157.4 146.8,162.2 151.9,167.0 155.6,171.0 151.9,175.0 150.3,181.4 153.2,186.2 148.4,189.4 142.8,194.2 146.0,199.0 143.5,202.4 140.0,205.6 138.4,208.0 138.4,214.4 141.3,217.6 141.9,220.8 136.0,222.4 140.0,228.0 146.4,235.2 152.8,241.6 160.0,248.0 164.0,252.8 168.8,257.6 171.6,260.0 177.2,264.8 185.2,269.6 191.6,274.4 198.0,279.2 203.6,284.0 208.4,288.8 211.9,293.6 215.2,298.4 218.1,302.4 214.1,304.8 218.1,307.2 226.2,312.8 234.3,319.2 240.7,325.6 244.8,332.0 248.8,334.8 254.4,339.6 260.9,346.0 262.7,350.8 265.0,352.6 260.6,355.0 262.0,359.0 266.0,363.8 267.1,367.2 270.5,371.0 273.7,375.8 274.4,378.2 277.4,382.2 281.4,387.0 285.5,391.8 287.7,395.5 292.7,400.6 299.6,407.0 303.0,409.8 310.1,415.4 317.1,421.0 322.8,425.9 327.0,432.2 332.7,437.1 338.3,441.3 342.5,444.8 346.8,449.0 341.2,450.4 345.4,453.9 352.4,458.1 358.1,461.6 363.7,463.5" fill="none" stroke="#a00000" stroke-width="2.5" />
<polyline points="140.6,14.2 139.2,16.5 138.0,20.0 138.4,20.0 138.8,26.0 140.2,29.6 142.0,33.2 142.4,38.0 143.2,42.8 142.6,47.6 140.2,51.2 138.2,56.0 135.4,62.0 133.6,68.0 131.8,72.8 132.1,76.4 133.2,81.2 133.7,86.0 134.8,90.8 137.7,95.6 142.0,100.4 146.3,104.4 147.6,110.0 148.9,114.0 146.5,118.0 147.6,124.4 148.9,128.4 146.8,134.0 143.6,137.2 140.9,142.0 140.3,146.5 141.6,151.0 143.2,157.4 146.4,162.2 151.5,167.0 155.2,171.0 151.5,175.0 149.9,181.4 152.8,186.2 148.0,189.4 142.4,194.2 145.6,199.0 143.1,202.4 139.6,205.6 138.0,208.0 138.0,214.4 140.9,217.6 141.5,220.8 135.6,222.4 139.6,228.0 146.0,235.2 152.4,241.6 159.6,248.0 163.6,252.8 168.4,257.6 171.2,260.0 176.8,264.8 184.8,269.6 191.2,274.4 197.6,279.2 203.2,284.0 208.0,288.8 211.5,293.6 214.7,298.4 217.6,302.4 213.6,304.8 217.6,307.2 225.6,312.8 233.6,319.2 240.0,325.6 244.0,332.0 248.0,334.8 253.6,339.6 260.0,346.0 261.8,350.8 264.1,352.6 259.6,355.0 261.0,359.0 265.0,363.8 266.0,367.2 269.4,371.0 272.6,375.8 273.2,378.2 276.2,382.2 280.2,387.0 284.2,391.8 286.4,395.5 291.3,400.6 298.2,407.0 301.6,409.8 311.8,418.2 317.0,423.0 323.0,430.3 331.4,437.3 337.0,442.8 339.8,446.8 337.7,449.7 344.0,455.3 351.0,460.2 355.2,463.6" fill="none" stroke="#2266ff" stroke-width="1.8" />
</g><g clip-path="url(#pc2)" stroke-linejoin="round" stroke-linecap="round" shape-rendering="crispEdges">
<polyline points="46.7,150.5 48.5,153.0 49.0,156.0 47.5,158.5 46.0,160.5 44.5,162.5 44.3,167.0 44.8,171.0 46.5,174.0 48.5,176.5 51.2,177.5 54.8,179.6 57.0,183.2 57.5,188.6 59.3,191.4 63.8,193.7 66.5,194.0 66.5,198.6 70.1,200.4 75.5,203.0 81.8,205.2 91.7,205.8 91.7,209.4 89.9,213.9 89.0,217.5 82.7,219.3 85.4,220.7 90.8,222.9 104.0,222.9 109.6,222.9 110.4,224.0 111.2,227.2 117.6,228.8 124.0,230.4 127.2,232.0 128.5,234.4 134.4,237.6 135.5,239.2 132.0,241.6 130.4,246.4 134.4,248.0 140.0,252.8 146.4,256.0 150.4,259.2 154.4,264.0 162.4,270.4 168.8,275.2 171.2,279.0 173.2,282.4 178.0,285.6 184.4,289.6 188.4,291.2 190.8,292.0 192.5,293.8 194.5,297.5 196.0,301.0 198.0,302.4 192.4,303.2 198.8,303.2 202.0,305.6 208.4,308.0 214.8,312.8 218.0,317.6 222.0,322.4 228.4,327.2 233.5,331.5 237.2,336.0 242.0,340.5 245.6,343.8 249.2,347.4 252.5,350.4 254.6,353.4 251.0,355.5 253.4,358.8 255.5,362.0 259.0,365.5 262.2,371.0 265.4,376.6 267.0,380.6 270.2,383.0 274.2,387.0 278.2,391.0 281.0,395.3 284.5,397.5 288.0,399.3 291.8,401.2 297.8,408.4 303.4,414.0 309.0,421.0 314.6,424.5 317.4,429.4 321.6,435.0 327.2,440.6 328.6,446.2 331.4,450.4 335.6,456.0 338.4,460.2 341.9,463.0" fill="none" stroke="#008000" stroke-width="2.6" />
</g>
<rect x="45" y="15" width="1" height="455" fill="#000"/>
<rect x="45" y="15" width="546" height="1" fill="#000"/>
<g clip-path="url(#pc3)" stroke-linejoin="round" stroke-linecap="round" shape-rendering="crispEdges">
<polyline points="141.0,14.2 139.6,16.5 138.4,20.0 138.8,20.0 139.2,26.0 140.6,29.6 142.4,33.2 142.8,38.0 143.6,42.8 143.0,47.6 140.6,51.2 138.6,56.0 135.8,62.0 134.0,68.0 132.2,72.8 132.5,76.4 133.6,81.2 134.1,86.0 135.2,90.8 138.1,95.6 142.4,100.4 146.7,104.4 148.0,110.0 149.3,114.0 146.9,118.0 148.0,124.4 149.3,128.4 147.2,134.0 144.0,137.2 141.3,142.0 140.7,146.5 142.0,151.0 143.6,157.4 146.8,162.2 151.9,167.0 155.6,171.0 151.9,175.0 150.3,181.4 153.2,186.2 148.4,189.4 142.8,194.2 146.0,199.0 143.5,202.4 140.0,205.6 138.4,208.0 138.4,214.4 141.3,217.6 141.9,220.8 136.0,222.4 140.0,228.0 146.4,235.2 152.8,241.6 160.0,248.0 164.0,252.8 168.8,257.6 171.6,260.0 177.2,264.8 185.2,269.6 191.6,274.4 198.0,279.2 203.6,284.0 208.4,288.8 211.9,293.6 215.1,298.4 218.0,302.4 214.0,304.8 218.0,307.2 226.0,312.8 234.0,319.2 240.4,325.6 244.4,332.0 248.4,334.8 254.0,339.6 260.4,346.0 262.2,350.8 264.5,352.6 260.0,355.0 261.4,359.0 265.4,363.8 266.4,367.2 269.8,371.0 273.0,375.8 273.6,378.2 276.6,382.2 280.6,387.0 284.6,391.8 286.8,395.5 291.7,400.6 298.6,407.0 302.0,409.8 309.0,415.4 316.0,421.0 321.6,425.9 325.8,432.2 331.4,437.1 337.0,441.3 341.2,444.8 345.4,449.0 339.8,450.4 344.0,453.9 351.0,458.1 356.6,461.6 362.2,463.5" fill="none" stroke="#ff0000" stroke-width="2.5" />
</g>
<rect x="119" y="88" width="21" height="1" fill="#000"/>
<text x="140.89" y="92.75" font-family="Liberation Sans, sans-serif" font-size="9.60" fill="#000" stroke="#000" stroke-width="0.18" textLength="26.83" lengthAdjust="spacingAndGlyphs" >Tropo</text>
<rect x="126" y="146" width="21" height="1" fill="#000"/>
<text x="148.39" y="151.00" font-family="Liberation Sans, sans-serif" font-size="9.60" fill="#000" stroke="#000" stroke-width="0.18" textLength="26.83" lengthAdjust="spacingAndGlyphs" >Tropo</text>
<rect x="121" y="223" width="21" height="1" fill="#000"/>
<text x="144.39" y="228.00" font-family="Liberation Sans, sans-serif" font-size="9.60" fill="#000" stroke="#000" stroke-width="0.18" textLength="26.83" lengthAdjust="spacingAndGlyphs" >Tropo</text>
<rect x="47" y="35.8" width="6" height="1.5" fill="#1e1eff"/>
<text x="60.2" y="40.9" font-family="Liberation Sans, sans-serif" font-size="9.7" fill="#1e1eff" stroke="#1e1eff" stroke-width="0.15" text-anchor="middle">15</text>
<rect x="47" y="66.8" width="6" height="1.5" fill="#1e1eff"/>
<text x="60.2" y="71.9" font-family="Liberation Sans, sans-serif" font-size="9.7" fill="#1e1eff" stroke="#1e1eff" stroke-width="0.15" text-anchor="middle">14</text>
<rect x="47" y="97.8" width="6" height="1.5" fill="#1e1eff"/>
<text x="60.2" y="102.9" font-family="Liberation Sans, sans-serif" font-size="9.7" fill="#1e1eff" stroke="#1e1eff" stroke-width="0.15" text-anchor="middle">13</text>
<rect x="47" y="128.8" width="6" height="1.5" fill="#1e1eff"/>
<text x="60.2" y="133.9" font-family="Liberation Sans, sans-serif" font-size="9.7" fill="#1e1eff" stroke="#1e1eff" stroke-width="0.15" text-anchor="middle">12</text>
<rect x="47" y="158.8" width="6" height="1.5" fill="#1e1eff"/>
<text x="60.2" y="163.9" font-family="Liberation Sans, sans-serif" font-size="9.7" fill="#1e1eff" stroke="#1e1eff" stroke-width="0.15" text-anchor="middle">11</text>
<rect x="47" y="189.8" width="6" height="1.5" fill="#1e1eff"/>
<text x="60.2" y="194.9" font-family="Liberation Sans, sans-serif" font-size="9.7" fill="#1e1eff" stroke="#1e1eff" stroke-width="0.15" text-anchor="middle">10</text>
<rect x="47" y="219.8" width="6" height="1.5" fill="#1e1eff"/>
<text x="60.2" y="224.9" font-family="Liberation Sans, sans-serif" font-size="9.7" fill="#1e1eff" stroke="#1e1eff" stroke-width="0.15" text-anchor="middle">9</text>
<rect x="47" y="250.8" width="6" height="1.5" fill="#1e1eff"/>
<text x="60.2" y="255.9" font-family="Liberation Sans, sans-serif" font-size="9.7" fill="#1e1eff" stroke="#1e1eff" stroke-width="0.15" text-anchor="middle">8</text>
<rect x="47" y="279.8" width="6" height="1.5" fill="#1e1eff"/>
<text x="60.2" y="284.9" font-family="Liberation Sans, sans-serif" font-size="9.7" fill="#1e1eff" stroke="#1e1eff" stroke-width="0.15" text-anchor="middle">7</text>
<rect x="47" y="308.8" width="6" height="1.5" fill="#1e1eff"/>
<text x="60.2" y="313.9" font-family="Liberation Sans, sans-serif" font-size="9.7" fill="#1e1eff" stroke="#1e1eff" stroke-width="0.15" text-anchor="middle">6</text>
<rect x="47" y="336.8" width="6" height="1.5" fill="#1e1eff"/>
<text x="60.2" y="341.9" font-family="Liberation Sans, sans-serif" font-size="9.7" fill="#1e1eff" stroke="#1e1eff" stroke-width="0.15" text-anchor="middle">5</text>
<rect x="47" y="363.8" width="6" height="1.5" fill="#1e1eff"/>
<text x="60.2" y="368.9" font-family="Liberation Sans, sans-serif" font-size="9.7" fill="#1e1eff" stroke="#1e1eff" stroke-width="0.15" text-anchor="middle">4</text>
<rect x="47" y="390.8" width="6" height="1.5" fill="#1e1eff"/>
<text x="60.2" y="395.9" font-family="Liberation Sans, sans-serif" font-size="9.7" fill="#1e1eff" stroke="#1e1eff" stroke-width="0.15" text-anchor="middle">3</text>
<rect x="47" y="416.8" width="6" height="1.5" fill="#1e1eff"/>
<text x="60.2" y="421.9" font-family="Liberation Sans, sans-serif" font-size="9.7" fill="#1e1eff" stroke="#1e1eff" stroke-width="0.15" text-anchor="middle">2</text>
<rect x="47" y="442.8" width="6" height="1.5" fill="#1e1eff"/>
<text x="60.2" y="447.9" font-family="Liberation Sans, sans-serif" font-size="9.7" fill="#1e1eff" stroke="#1e1eff" stroke-width="0.15" text-anchor="middle">1</text>
<text x="30.2" y="20.0" font-family="Liberation Sans, sans-serif" font-size="10.8" fill="#000" stroke="#000" stroke-width="0.18" text-anchor="middle">100</text>
<text x="30.2" y="155.0" font-family="Liberation Sans, sans-serif" font-size="10.8" fill="#000" stroke="#000" stroke-width="0.18" text-anchor="middle">200</text>
<text x="30.2" y="234.0" font-family="Liberation Sans, sans-serif" font-size="10.8" fill="#000" stroke="#000" stroke-width="0.18" text-anchor="middle">300</text>
<text x="30.2" y="290.0" font-family="Liberation Sans, sans-serif" font-size="10.8" fill="#000" stroke="#000" stroke-width="0.18" text-anchor="middle">400</text>
<text x="30.2" y="334.0" font-family="Liberation Sans, sans-serif" font-size="10.8" fill="#000" stroke="#000" stroke-width="0.18" text-anchor="middle">500</text>
<text x="30.2" y="370.0" font-family="Liberation Sans, sans-serif" font-size="10.8" fill="#000" stroke="#000" stroke-width="0.18" text-anchor="middle">600</text>
<text x="30.2" y="400.0" font-family="Liberation Sans, sans-serif" font-size="10.8" fill="#000" stroke="#000" stroke-width="0.18" text-anchor="middle">700</text>
<text x="30.2" y="438.0" font-family="Liberation Sans, sans-serif" font-size="10.8" fill="#000" stroke="#000" stroke-width="0.18" text-anchor="middle">850</text>
<text x="30.2" y="454.0" font-family="Liberation Sans, sans-serif" font-size="10.8" fill="#000" stroke="#000" stroke-width="0.18" text-anchor="middle">925</text>
<text x="30.2" y="469.0" font-family="Liberation Sans, sans-serif" font-size="10.8" fill="#000" stroke="#000" stroke-width="0.18" text-anchor="middle">1000</text>
<text x="87.3" y="479.6" font-family="Liberation Sans, sans-serif" font-size="10.8" fill="#000" stroke="#000" stroke-width="0.18" text-anchor="middle">-70</text>
<text x="128.3" y="479.6" font-family="Liberation Sans, sans-serif" font-size="10.8" fill="#000" stroke="#000" stroke-width="0.18" text-anchor="middle">-60</text>
<text x="170.3" y="479.6" font-family="Liberation Sans, sans-serif" font-size="10.8" fill="#000" stroke="#000" stroke-width="0.18" text-anchor="middle">-50</text>
<text x="212.3" y="479.6" font-family="Liberation Sans, sans-serif" font-size="10.8" fill="#000" stroke="#000" stroke-width="0.18" text-anchor="middle">-40</text>
<text x="253.3" y="479.6" font-family="Liberation Sans, sans-serif" font-size="10.8" fill="#000" stroke="#000" stroke-width="0.18" text-anchor="middle">-30</text>
<text x="295.3" y="479.6" font-family="Liberation Sans, sans-serif" font-size="10.8" fill="#000" stroke="#000" stroke-width="0.18" text-anchor="middle">-20</text>
<text x="337.3" y="479.6" font-family="Liberation Sans, sans-serif" font-size="10.8" fill="#000" stroke="#000" stroke-width="0.18" text-anchor="middle">-10</text>
<text x="378.3" y="479.6" font-family="Liberation Sans, sans-serif" font-size="10.8" fill="#000" stroke="#000" stroke-width="0.18" text-anchor="middle">0</text>
<text x="420.3" y="479.6" font-family="Liberation Sans, sans-serif" font-size="10.8" fill="#000" stroke="#000" stroke-width="0.18" text-anchor="middle">10</text>
<text x="462.3" y="479.6" font-family="Liberation Sans, sans-serif" font-size="10.8" fill="#000" stroke="#000" stroke-width="0.18" text-anchor="middle">20</text>
<text x="503.3" y="479.6" font-family="Liberation Sans, sans-serif" font-size="10.8" fill="#000" stroke="#000" stroke-width="0.18" text-anchor="middle">30</text>
<text x="197.48" y="496.90" font-family="Liberation Sans, sans-serif" font-size="10.80" fill="#000" stroke="#000" stroke-width="0.18" textLength="83.85" lengthAdjust="spacingAndGlyphs" >Temperature [°C]</text>
<text x="287.20" y="496.90" font-family="Liberation Sans, sans-serif" font-size="10.80" fill="#000" stroke="#000" stroke-width="0.18" textLength="2.78" lengthAdjust="spacingAndGlyphs" >/</text>
<text x="301.83" y="496.90" font-family="Liberation Sans, sans-serif" font-size="10.80" fill="#33cc11" stroke="#33cc11" stroke-width="0.18" textLength="85.66" lengthAdjust="spacingAndGlyphs" >Mixing ratio [g/kg]</text>
<text transform="translate(10.90,333.69) rotate(-90)" x="0" y="0" font-family="Liberation Sans, sans-serif" font-size="10.80" fill="#000" textLength="73.52" lengthAdjust="spacingAndGlyphs">Pressure [hPa]</text>
<text transform="translate(10.90,255.00) rotate(-90)" x="0" y="0" font-family="Liberation Sans, sans-serif" font-size="10.80" fill="#000" textLength="3.77" lengthAdjust="spacingAndGlyphs">/</text>
<text transform="translate(10.90,242.60) rotate(-90)" x="0" y="0" font-family="Liberation Sans, sans-serif" font-size="10.80" fill="#1e1eff" textLength="59.38" lengthAdjust="spacingAndGlyphs">Altitude [km]</text>
<text x="50.03" y="11.80" font-family="Liberation Sans, sans-serif" font-size="12.00" font-weight="bold" fill="#000" stroke="#000" stroke-width="0.18" textLength="54.26" lengthAdjust="spacingAndGlyphs" >Prostejov</text>
<text x="117.07" y="11.80" font-family="Liberation Sans, sans-serif" font-size="12.00" font-weight="bold" fill="#000" stroke="#000" stroke-width="0.18" textLength="106.18" lengthAdjust="spacingAndGlyphs" >11.01.2026 12 UTC</text>
<text x="529.85" y="10.70" font-family="Liberation Sans, sans-serif" font-size="10.40" fill="#ff2020" stroke="#ff2020" stroke-width="0.18" textLength="66.31" lengthAdjust="spacingAndGlyphs" >CHMI © 2026</text>
<text x="297.63" y="29.80" font-family="Liberation Sans, sans-serif" font-size="10.60" fill="#000" stroke="#000" stroke-width="0.18" textLength="56.27" lengthAdjust="spacingAndGlyphs" >EMAGRAM</text>
<text x="298.10" y="44.60" font-family="Liberation Sans, sans-serif" font-size="9.60" fill="#ff2020" stroke="#ff2020" stroke-width="0.18" textLength="55.28" lengthAdjust="spacingAndGlyphs" >temperature</text>
<text x="298.20" y="54.60" font-family="Liberation Sans, sans-serif" font-size="9.60" fill="#a01c1c" stroke="#a01c1c" stroke-width="0.18" textLength="41.84" lengthAdjust="spacingAndGlyphs" >virt.temp.</text>
<text x="297.83" y="64.60" font-family="Liberation Sans, sans-serif" font-size="9.60" fill="#20a020" stroke="#20a020" stroke-width="0.18" textLength="44.73" lengthAdjust="spacingAndGlyphs" >dew point</text>
<text x="298.25" y="74.60" font-family="Liberation Sans, sans-serif" font-size="9.60" fill="#4080ff" stroke="#4080ff" stroke-width="0.18" textLength="67.72" lengthAdjust="spacingAndGlyphs" >wet bulb temp.</text>
<text x="297.56" y="84.60" font-family="Liberation Sans, sans-serif" font-size="9.60" fill="#b020c0" stroke="#b020c0" stroke-width="0.18" textLength="70.41" lengthAdjust="spacingAndGlyphs" >udpraft v.temp.</text>
<text x="381.72" y="30.80" font-family="Liberation Sans, sans-serif" font-size="9.60" fill="#000" stroke="#000" stroke-width="0.18" textLength="39.48" lengthAdjust="spacingAndGlyphs" >Surface:</text>
<text x="385.62" y="42.50" font-family="Liberation Sans, sans-serif" font-size="9.60" fill="#000" stroke="#000" stroke-width="0.18" textLength="79.59" lengthAdjust="spacingAndGlyphs" >press: 991.3 hPa</text>
<text x="386.15" y="52.70" font-family="Liberation Sans, sans-serif" font-size="9.60" fill="#ff2020" stroke="#ff2020" stroke-width="0.18" textLength="60.94" lengthAdjust="spacingAndGlyphs" >temp: -4.4 °C</text>
<text x="385.88" y="62.30" font-family="Liberation Sans, sans-serif" font-size="9.60" fill="#20a020" stroke="#20a020" stroke-width="0.18" textLength="60.49" lengthAdjust="spacingAndGlyphs" >dwpt: -8.9 °C</text>
<text x="386.15" y="77.70" font-family="Liberation Sans, sans-serif" font-size="9.60" fill="#000" stroke="#000" stroke-width="0.18" textLength="65.94" lengthAdjust="spacingAndGlyphs" >t-conv: -1.3 °C</text>
<text x="386.15" y="87.20" font-family="Liberation Sans, sans-serif" font-size="9.60" fill="#000" stroke="#000" stroke-width="0.18" textLength="62.44" lengthAdjust="spacingAndGlyphs" >t-mxfc: 1.4 °C</text>
<text x="77.37" y="416.50" font-family="Liberation Sans, sans-serif" font-size="9.60" fill="#000" stroke="#000" stroke-width="0.18" textLength="35.66" lengthAdjust="spacingAndGlyphs" >p [hPa]</text>
<text x="126.2" y="416.5" font-family="Liberation Sans, sans-serif" font-size="9.9" fill="#000" stroke="#000" stroke-width="0.18" text-anchor="middle">T</text>
<text x="147.39" y="416.50" font-family="Liberation Sans, sans-serif" font-size="9.60" fill="#000" stroke="#000" stroke-width="0.18" textLength="32.77" lengthAdjust="spacingAndGlyphs" >Td [°C]</text>
<text x="84.77" y="431.10" font-family="Liberation Sans, sans-serif" font-size="9.60" fill="#000" stroke="#000" stroke-width="0.18" textLength="17.73" lengthAdjust="spacingAndGlyphs" >500</text>
<text x="113.04" y="431.10" font-family="Liberation Sans, sans-serif" font-size="9.60" fill="#000" stroke="#000" stroke-width="0.18" textLength="23.47" lengthAdjust="spacingAndGlyphs" >-32.3</text>
<text x="149.74" y="431.10" font-family="Liberation Sans, sans-serif" font-size="9.60" fill="#000" stroke="#000" stroke-width="0.18" textLength="23.36" lengthAdjust="spacingAndGlyphs" >-35.4</text>
<text x="84.67" y="441.20" font-family="Liberation Sans, sans-serif" font-size="9.60" fill="#000" stroke="#000" stroke-width="0.18" textLength="17.85" lengthAdjust="spacingAndGlyphs" >700</text>
<text x="113.04" y="441.20" font-family="Liberation Sans, sans-serif" font-size="9.60" fill="#000" stroke="#000" stroke-width="0.18" textLength="23.52" lengthAdjust="spacingAndGlyphs" >-22.1</text>
<text x="149.74" y="441.20" font-family="Liberation Sans, sans-serif" font-size="9.60" fill="#000" stroke="#000" stroke-width="0.18" textLength="23.42" lengthAdjust="spacingAndGlyphs" >-23.0</text>
<text x="84.72" y="451.30" font-family="Liberation Sans, sans-serif" font-size="9.60" fill="#000" stroke="#000" stroke-width="0.18" textLength="17.79" lengthAdjust="spacingAndGlyphs" >850</text>
<text x="113.04" y="451.30" font-family="Liberation Sans, sans-serif" font-size="9.60" fill="#000" stroke="#000" stroke-width="0.18" textLength="23.47" lengthAdjust="spacingAndGlyphs" >-12.3</text>
<text x="149.74" y="451.30" font-family="Liberation Sans, sans-serif" font-size="9.60" fill="#000" stroke="#000" stroke-width="0.18" textLength="23.52" lengthAdjust="spacingAndGlyphs" >-13.9</text>
<rect x="487" y="179" width="31" height="11" fill="#fff" fill-opacity="0.9"/>
<text x="486.70" y="188.00" font-family="Liberation Sans, sans-serif" font-size="10.00" fill="#ff1a1a" stroke="#ff1a1a" stroke-width="0.18" textLength="30.95" lengthAdjust="spacingAndGlyphs" >MXWS</text>
<rect x="520" y="183" width="8" height="1" fill="#ff1a1a"/>
<text x="511.63" y="495.10" font-family="Liberation Sans, sans-serif" font-size="9.60" fill="#2020ff" stroke="#2020ff" stroke-width="0.18" textLength="77.51" lengthAdjust="spacingAndGlyphs" >SFC: 215 m ASL</text>
<g stroke="#000" stroke-width="1.05" shape-rendering="crispEdges"><line x1="560.5" y1="36.5" x2="542.1" y2="18.3"/><line x1="542.1" y1="18.3" x2="549.3" y2="11.0"/><line x1="544.4" y1="20.6" x2="551.7" y2="13.3"/><line x1="546.7" y1="22.9" x2="554.0" y2="15.5"/></g><rect x="559" y="35" width="3" height="3" fill="#000"/>
<g stroke="#000" stroke-width="1.05" shape-rendering="crispEdges"><line x1="560.5" y1="67.2" x2="540.2" y2="51.5"/><line x1="540.2" y1="51.5" x2="546.5" y2="43.4"/><line x1="542.8" y1="53.5" x2="549.1" y2="45.3"/><line x1="545.3" y1="55.5" x2="551.6" y2="47.3"/><line x1="547.9" y1="57.5" x2="554.2" y2="49.3"/></g><rect x="559" y="66" width="3" height="3" fill="#000"/>
<g stroke="#000" stroke-width="1.05" shape-rendering="crispEdges"><line x1="560.5" y1="98.2" x2="552.5" y2="74.5"/><line x1="552.5" y1="74.5" x2="562.3" y2="71.2"/><line x1="553.5" y1="77.6" x2="563.3" y2="74.3"/></g><rect x="559" y="97" width="3" height="3" fill="#000"/>
<g stroke="#000" stroke-width="1.05" shape-rendering="crispEdges"><line x1="560.5" y1="128.2" x2="546.1" y2="107.4"/><line x1="546.1" y1="107.4" x2="554.6" y2="101.5"/><line x1="547.9" y1="110.1" x2="556.4" y2="104.2"/><line x1="549.8" y1="112.7" x2="554.5" y2="109.5"/></g><rect x="559" y="127" width="3" height="3" fill="#000"/>
<g stroke="#000" stroke-width="1.05" shape-rendering="crispEdges"><line x1="560.5" y1="158.8" x2="553.5" y2="135.7"/><line x1="553.5" y1="135.7" x2="563.4" y2="132.7"/><line x1="554.4" y1="138.8" x2="564.3" y2="135.8"/><line x1="555.4" y1="141.9" x2="565.2" y2="138.9"/><line x1="556.3" y1="145.0" x2="561.7" y2="143.4"/></g><rect x="559" y="157" width="3" height="3" fill="#000"/>
<g stroke="#000" stroke-width="1.05" shape-rendering="crispEdges"><line x1="560.5" y1="190.1" x2="553.8" y2="165.2"/><line x1="553.8" y1="165.2" x2="563.7" y2="162.5"/><line x1="554.6" y1="168.3" x2="564.6" y2="165.7"/><line x1="555.5" y1="171.5" x2="565.4" y2="168.8"/><line x1="556.3" y1="174.6" x2="561.8" y2="173.1"/></g><rect x="559" y="189" width="3" height="3" fill="#000"/>
<g stroke="#000" stroke-width="1.05" shape-rendering="crispEdges"><line x1="560.5" y1="220.2" x2="555.4" y2="196.5"/><line x1="555.4" y1="196.5" x2="565.5" y2="194.3"/><line x1="556.1" y1="199.7" x2="566.2" y2="197.5"/><line x1="556.8" y1="202.9" x2="566.8" y2="200.7"/></g><rect x="559" y="219" width="3" height="3" fill="#000"/>
<g stroke="#000" stroke-width="1.05" shape-rendering="crispEdges"><line x1="560.5" y1="251.5" x2="561.4" y2="226.5"/><line x1="561.4" y1="226.5" x2="571.7" y2="226.9"/><line x1="561.3" y1="229.7" x2="571.6" y2="230.1"/><line x1="561.2" y1="233.0" x2="571.5" y2="233.4"/></g><rect x="559" y="250" width="3" height="3" fill="#000"/>
<g stroke="#000" stroke-width="1.05" shape-rendering="crispEdges"><line x1="560.5" y1="280.2" x2="556.3" y2="256.5"/><line x1="556.3" y1="256.5" x2="566.4" y2="254.7"/><line x1="556.9" y1="259.7" x2="567.0" y2="257.9"/><line x1="557.4" y1="262.9" x2="567.6" y2="261.1"/></g><rect x="559" y="279" width="3" height="3" fill="#000"/>
<g stroke="#000" stroke-width="1.05" shape-rendering="crispEdges"><line x1="560.5" y1="309.5" x2="560.5" y2="284.4"/><line x1="560.5" y1="284.4" x2="570.8" y2="284.4"/><line x1="560.5" y1="287.6" x2="570.8" y2="287.6"/><line x1="560.5" y1="290.9" x2="570.8" y2="290.9"/><line x1="560.5" y1="294.1" x2="570.8" y2="294.1"/></g><rect x="559" y="308" width="3" height="3" fill="#000"/>
<g stroke="#000" stroke-width="1.05" shape-rendering="crispEdges"><line x1="560.5" y1="337.5" x2="555.7" y2="312.4"/><line x1="555.7" y1="312.4" x2="565.8" y2="310.5"/><line x1="556.3" y1="315.6" x2="566.4" y2="313.7"/><line x1="556.9" y1="318.8" x2="567.0" y2="316.8"/></g><rect x="559" y="336" width="3" height="3" fill="#000"/>
<g stroke="#000" stroke-width="1.05" shape-rendering="crispEdges"><line x1="560.5" y1="364.2" x2="561.1" y2="339.1"/><line x1="561.1" y1="339.1" x2="571.4" y2="339.3"/><line x1="561.0" y1="342.3" x2="571.3" y2="342.6"/><line x1="560.9" y1="345.6" x2="571.2" y2="345.8"/><line x1="560.9" y1="348.8" x2="566.5" y2="349.0"/></g><rect x="559" y="363" width="3" height="3" fill="#000"/>
<g stroke="#000" stroke-width="1.05" shape-rendering="crispEdges"><line x1="560.5" y1="391.2" x2="556.6" y2="366.5"/><line x1="556.6" y1="366.5" x2="566.8" y2="364.9"/><line x1="557.1" y1="369.7" x2="567.3" y2="368.1"/><line x1="557.6" y1="372.9" x2="567.8" y2="371.3"/><line x1="558.1" y1="376.1" x2="568.3" y2="374.5"/></g><rect x="559" y="390" width="3" height="3" fill="#000"/>
<g stroke="#000" stroke-width="1.05" shape-rendering="crispEdges"><line x1="560.5" y1="418.1" x2="553.6" y2="393.8"/><line x1="553.6" y1="393.8" x2="563.5" y2="391.0"/><line x1="554.5" y1="396.9" x2="564.4" y2="394.1"/><line x1="555.4" y1="400.1" x2="565.3" y2="397.2"/><line x1="556.3" y1="403.2" x2="566.2" y2="400.4"/></g><rect x="559" y="417" width="3" height="3" fill="#000"/>
<g stroke="#000" stroke-width="1.05" shape-rendering="crispEdges"><line x1="560.5" y1="443.2" x2="551.5" y2="420.4"/><line x1="551.5" y1="420.4" x2="561.1" y2="416.6"/><line x1="552.7" y1="423.4" x2="562.3" y2="419.6"/><line x1="553.9" y1="426.4" x2="563.5" y2="422.7"/><line x1="555.1" y1="429.5" x2="560.3" y2="427.4"/></g><rect x="559" y="442" width="3" height="3" fill="#000"/>
<g stroke="#1010ff" stroke-width="1.05" shape-rendering="crispEdges"><line x1="560.7" y1="463.6" x2="536.5" y2="453.9"/><line x1="536.5" y1="453.9" x2="539.8" y2="445.5"/><line x1="539.3" y1="455.0" x2="542.6" y2="446.7"/></g><rect x="559" y="462" width="3" height="3" fill="#1010ff"/>
<g stroke="#ff0000" stroke-width="1.05" shape-rendering="crispEdges" fill="none"><line x1="560.4" y1="183.4" x2="557" y2="158"/><polyline points="566.8,157.5 557,157.5 557,160.5 566.8,160.5"/><line x1="557.6" y1="163.5" x2="567.6" y2="163.5"/><line x1="558.1" y1="166.5" x2="567.6" y2="166.5"/><line x1="558.6" y1="170" x2="564" y2="170"/></g>
<rect x="559" y="182" width="3" height="3" fill="#ff0000"/>
</svg>
</body></html>
